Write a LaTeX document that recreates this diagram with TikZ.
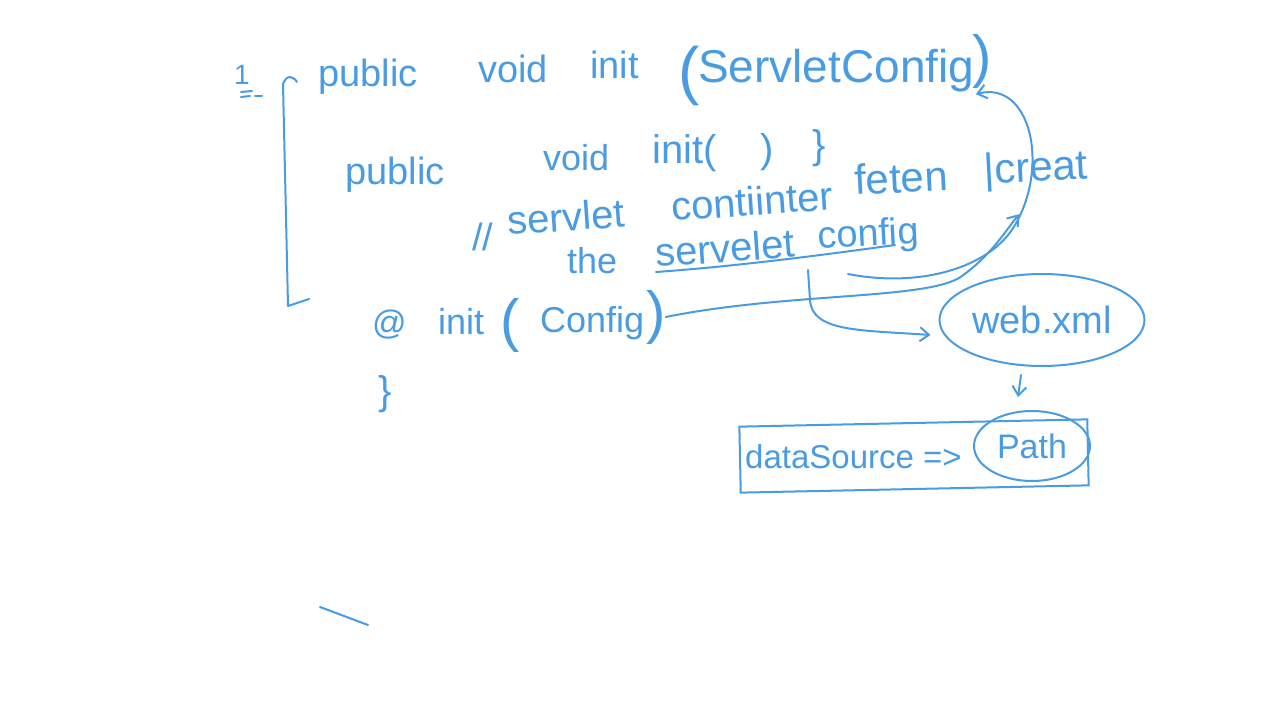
\documentclass[tikz,border=0pt]{standalone}
\usepackage{fontspec}
\setmainfont{Liberation Sans}
\usetikzlibrary{arrows.meta,shapes.geometric,calc}
\definecolor{ink}{RGB}{74,156,226}
\tikzset{
  txt/.style={text=ink, inner sep=0pt, font=\fontsize{#1}{#1}\selectfont},
  ink line/.style={draw=ink, line width=2pt, line cap=round, line join=round},
  conn/.style={ink line, -{Straight Barb[length=9pt,width=14pt,line width=2pt]}},
  plain/.style={ink line}
}
\begin{document}
\begin{tikzpicture}[x=1pt,y=-1pt]
\useasboundingbox (0,0) rectangle (1280,720);
\fill[white] (0,0) rectangle (1280,720);

% marker "1" and dashes
\node[txt=28, anchor=base west] (one) at (234,84) {1};
\draw[plain] (241,92) -- (252,91);
\draw[plain] (241,97) -- (250,96);
\draw[plain] (255,96) -- (262,96);

% left bracket
\draw[plain] (297,82) .. controls (293,76) and (287,74) .. (283,84) -- (288,306) -- (309,299);

% line 1
\node[txt=38, anchor=base west] (pub1) at (318,86) {public};
\node[txt=38, anchor=base west] (void1) at (478,82) {void};
\node[txt=38, anchor=base west] (init1) at (590,78) {init};
\node[txt=64, anchor=base west] (op1) at (678,92) {(};
\node[txt=46, anchor=base west] (sc) at (698,82) {ServletConfig};
\node[txt=58, anchor=base west] (cp1) at (972,76) {)};

% line 2
\node[txt=38, anchor=base west] (pub2) at (345,184) {public};
\node[txt=36, anchor=base west] (void2) at (543,170) {void};
\node[txt=40, anchor=base west] (init2) at (652,163) {init(};
\node[txt=40, anchor=base west] (cp2) at (760,162) {)};
\node[txt=40, anchor=base west] (br2) at (812,158) {\}};

% comment
\node[txt=38, anchor=base west, text depth=0pt] (slash) at (472,250) {//};
\node[txt=40, anchor=base west, rotate=4, text depth=0pt] (cmt1) at (508,235) {servlet};
\node[txt=40, anchor=base west, rotate=4, text depth=0pt] (cmt2) at (672,221) {contiinter};
\node[txt=42, anchor=base west, rotate=3] (fetch) at (855,195) {feten};
\node[txt=42, anchor=base west, rotate=3] (creat) at (984,184) {|creat};
\node[txt=36, anchor=base west, text height=26pt] (the) at (567,273) {the};
\node[txt=40, anchor=base west, rotate=4, text height=29pt] (svl) at (656,267) {servelet};
\node[txt=38, anchor=base west, rotate=3, text height=28pt] (conf) at (818,249) {config};
\draw[plain] (656,272) .. controls (740,266) and (830,254) .. (895,245);

% init(Config)
\node[txt=34, anchor=base west] (at) at (372,334) {@};
\node[txt=36, anchor=base west] (init3) at (438,334) {init};
\node[txt=58, anchor=base west] (op3) at (500,340) {(};
\node[txt=36, anchor=base west] (cfg) at (540,332) {Config};
\node[txt=58, anchor=base west] (cp3) at (646,332) {)};
\node[txt=40, anchor=base west] (br3) at (378,404) {\}};

% web.xml
\node[ellipse, draw=ink, line width=2pt, minimum width=205pt, minimum height=92pt, inner sep=0pt,
      txt=38] (web) at (1042,320) {web.xml};

% dataSource box
\node[draw=ink, line width=2pt, rotate=1.2, minimum width=348pt, minimum height=66pt, inner sep=0pt] (dsbox) at (914,456) {};
\node[txt=33, anchor=base west] (ds) at (745,468) {dataSource =>};
\node[ellipse, draw=ink, line width=2pt, minimum width=116pt, minimum height=70pt, inner sep=0pt,
      txt=34] (pathn) at (1032,446) {Path};

% connectors
\coordinate (b0) at (848,274);
\coordinate (c0) at (808,270);
\draw[conn] (cp3.east) .. controls (790,292) and (930,300) .. (962,276)
   .. controls (990,256) and (1005,232) .. ($(creat.south)+(-18,24)$);
\draw[conn] (b0) .. controls (920,288) and (990,268) .. (1015,225)
   .. controls (1050,165) and (1030,80) .. ($(cp1.south)+(-6,6)$);
\draw[conn] (c0) -- (810,300) .. controls (812,332) and (860,330) .. ($(web.west)+(-8,15)$);
\draw[conn] ($(web.south)+(-21,8)$) -- ($(pathn.north)+(-14,-13)$);

% stray stroke
\draw[plain] (320,607) -- (368,625);
\end{tikzpicture}
\end{document}
